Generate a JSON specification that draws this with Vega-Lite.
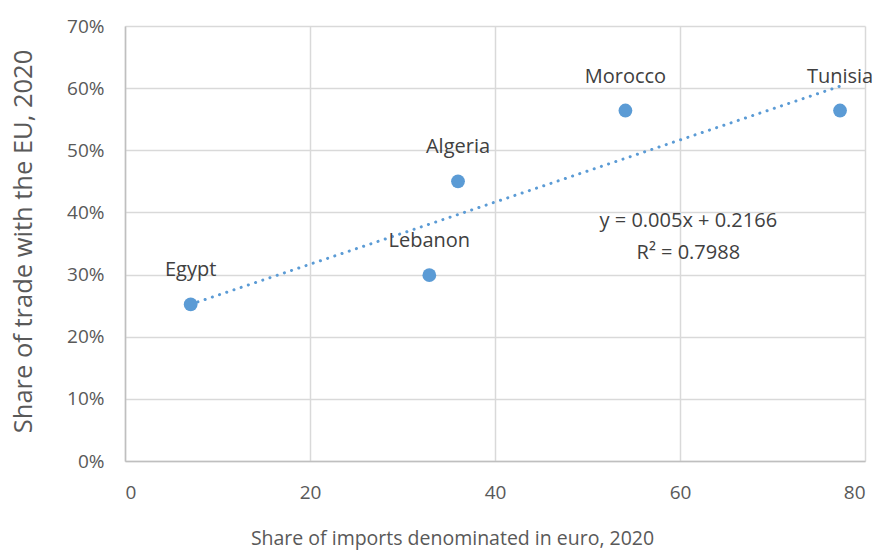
{
  "$schema": "https://vega.github.io/schema/vega-lite/v6.json",
  "width": 740,
  "height": 435,
  "autosize": {"type": "none"},
  "padding": {"left": 125, "top": 26, "right": 11, "bottom": 90},
  "background": "white",
  "config": {
    "view": {"stroke": null},
    "font": "Open Sans",
    "axis": {
      "gridColor": "#d9d9d9",
      "gridWidth": 1.5,
      "domainColor": "#bfbfbf",
      "domainWidth": 1.5,
      "ticks": false,
      "labelColor": "#595959",
      "labelFontSize": 19,
      "titleColor": "#595959",
      "titleFontSize": 19.5,
      "titleFontWeight": "normal",
      "labelFont": "Open Sans",
      "titleFont": "Open Sans"
    }
  },
  "datasets": {
    "countries": [
      {"country": "Egypt", "euro": 7.1, "eu": 0.252},
      {"country": "Lebanon", "euro": 32.9, "eu": 0.299},
      {"country": "Algeria", "euro": 36.0, "eu": 0.450},
      {"country": "Morocco", "euro": 54.1, "eu": 0.564},
      {"country": "Tunisia", "euro": 77.3, "eu": 0.564}
    ],
    "trend": [
      {"euro": 7.1, "eu": 0.2521},
      {"euro": 77.3, "eu": 0.6031}
    ],
    "equation": [
      {"text": "y = 0.005x + 0.2166", "euro": 60.9, "eu": 0.386},
      {"text": "R² = 0.7988", "euro": 60.9, "eu": 0.335}
    ]
  },
  "layer": [
    {
      "data": {"name": "trend"},
      "mark": {"type": "line", "color": "#5b9bd5", "strokeWidth": 3, "strokeDash": [0.1, 7.5], "strokeCap": "round"},
      "encoding": {
        "x": {"field": "euro", "type": "quantitative", "scale": {"domain": [0, 80]},
          "axis": {"values": [0, 20, 40, 60, 80], "title": "Share of imports denominated in euro, 2020", "labelPadding": 22, "titlePadding": 27, "titleX": 327, "titleAlign": "center"}},
        "y": {"field": "eu", "type": "quantitative", "scale": {"domain": [0, 0.7]},
          "axis": {"values": [0, 0.1, 0.2, 0.3, 0.4, 0.5, 0.6, 0.7], "format": ".0%", "title": "Share of trade with the EU, 2020", "titleFontSize": 25.5, "labelPadding": 21, "titlePadding": 30, "titleY": 215, "titleAlign": "center"}}
      }
    },
    {
      "data": {"name": "countries"},
      "mark": {"type": "point", "filled": true, "opacity": 1, "color": "#5b9bd5", "size": 190},
      "encoding": {
        "x": {"field": "euro", "type": "quantitative"},
        "y": {"field": "eu", "type": "quantitative"}
      }
    },
    {
      "data": {"name": "countries"},
      "mark": {"type": "text", "dy": -34, "fontSize": 20, "color": "#404040", "font": "Open Sans"},
      "encoding": {
        "x": {"field": "euro", "type": "quantitative"},
        "y": {"field": "eu", "type": "quantitative"},
        "text": {"field": "country"}
      }
    },
    {
      "data": {"name": "equation"},
      "mark": {"type": "text", "fontSize": 20, "color": "#404040", "font": "Open Sans"},
      "encoding": {
        "x": {"field": "euro", "type": "quantitative"},
        "y": {"field": "eu", "type": "quantitative"},
        "text": {"field": "text"}
      }
    }
  ]
}
